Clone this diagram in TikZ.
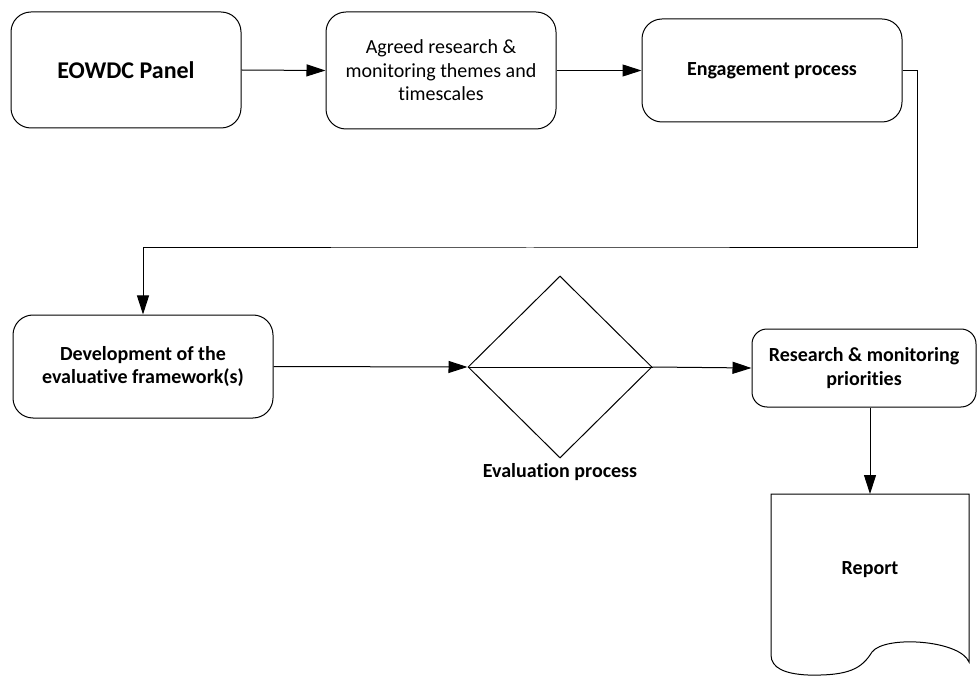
\documentclass[tikz,border=0pt]{standalone}
\usepackage{fontspec}
\setmainfont{Carlito}[Ligatures={NoCommon}]
\usetikzlibrary{shapes.geometric,arrows.meta}
\begin{document}
\begin{tikzpicture}[x=1pt,y=-1pt,
  line width=1pt,
  box/.style={draw, rounded corners=20pt, inner sep=0pt, align=center,
    font=\fontsize{20}{23.5}\selectfont\bfseries},
  arr/.style={-{Triangle[length=19pt,width=12pt]}}]
\useasboundingbox (0,0) rectangle (977,676);
\node[box, minimum width=230pt, minimum height=116pt, font=\fontsize{24}{28}\selectfont\bfseries] (panel) at (126,70) {EOWDC Panel};
\node[box, minimum width=230pt, minimum height=117pt, font=\fontsize{20}{23.5}\selectfont] (agreed) at (441,70.5) {Agreed research \&\\monitoring themes and\\timescales};
\node[box, minimum width=260pt, minimum height=103pt] (engage) at (772,70.5) {Engagement process};
\node[box, minimum width=260pt, minimum height=103pt] (dev) at (143,366.5) {Development of the\\evaluative framework(s)};
\node[draw, diamond, minimum width=184pt, minimum height=182pt, inner sep=0pt] (dia) at (560,367) {};
\node[font=\fontsize{20}{24}\selectfont\bfseries, inner sep=0pt] (evlab) at (560,472) {Evaluation process};
\node[box, rounded corners=15pt, minimum width=224pt, minimum height=78pt] (res) at (864,368) {Research \& monitoring\\priorities};
% Report document shape
\draw (771,494) -- (969,494) -- (969,662)
  .. controls (960,640) and (885,635) .. (872,652)
  .. controls (862,668) and (850,676) .. (808,675)
  .. controls (785,674) and (771,668) .. (771,655) -- cycle;
\coordinate (reptop) at (870,494);
\node[font=\fontsize{20}{24}\selectfont\bfseries, inner sep=0pt] (rep) at (870,570) {Report};
% connectors
\draw[arr] (panel.east) -- (agreed.west);
\draw[arr] (agreed.east) -- (engage.west);
\draw[arr] (engage.east) -- ++(15,0) |- (530,248) -| (dev.north);
\draw[arr] (dev.east) -- (dia.west);
\draw (dia.west) -- (dia.east);
\draw[arr] (dia.east) -- (res.west);
\draw[arr] (res.south -| reptop) -- (reptop);
\end{tikzpicture}
\end{document}
